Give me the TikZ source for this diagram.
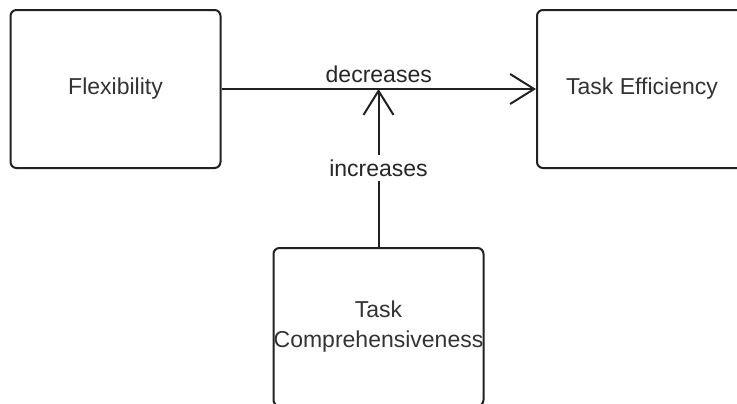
\documentclass[tikz,border=0pt]{standalone}
\usepackage{fontspec}
\setmainfont{Liberation Sans}
\usetikzlibrary{arrows.meta}

\begin{document}
\begin{tikzpicture}[
  x=0.5pt, y=-0.5pt,
  factor/.style={rectangle, draw=black!87, line width=1pt, rounded corners=3pt,
    minimum width=105pt, minimum height=79pt, inner sep=0pt, text=black!80,
    font=\fontsize{11.5}{15}\selectfont, align=center},
  arrow/.style={draw=black!87, line width=1pt,
    -{Straight Barb[length=12pt, width=15pt, line width=1pt]}},
  effect/.style={font=\fontsize{11.5}{15}\selectfont, text=black!85, inner sep=2.5pt}
]
  \useasboundingbox (0,0) rectangle (737,403);

  % The three factors
  \node[factor] (flex) at (115.5, 89) {Flexibility};
  \node[factor] (eff) at (642, 89) {Task Efficiency};
  \node[factor] (comp) at (378.5, 327) {Task\\Comprehensiveness};

  % Effects
  \draw[arrow] (flex) -- (eff) node[effect, midway, above] {decreases};
  \draw[arrow] (comp.north) -- (comp.north |- flex.east)
    node[effect, midway, fill=white] {increases};
\end{tikzpicture}
\end{document}
